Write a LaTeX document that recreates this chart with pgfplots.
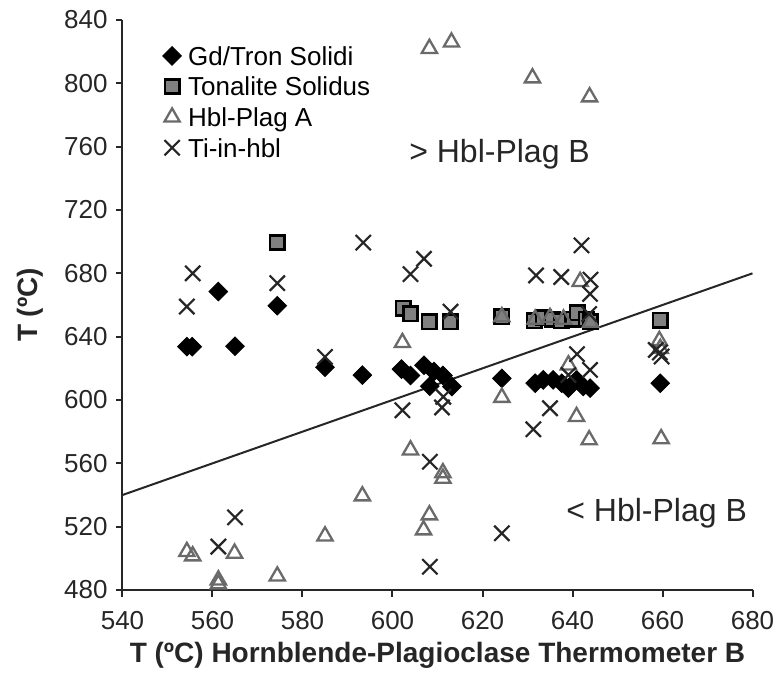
\documentclass[border=0pt]{standalone}
\usepackage{fontspec}
\setmainfont{Liberation Sans}
\usepackage{pgfplots}
\usepackage{pgfplotstable}
\pgfplotsset{compat=1.18}

\definecolor{ink}{HTML}{262626}
\definecolor{boxgray}{HTML}{808080}
\definecolor{trigray}{HTML}{6A6A6A}

% legend image: one mark centred in a fixed 10pt cell
\pgfplotsset{markleg/.style={legend image code/.code={%
  \path[draw=none, fill=none] (-5pt,-5pt) rectangle (5pt,5pt);
  \draw[##1] plot coordinates {(0pt,0pt)};}}}

% Gd/Tron solidi
\pgfplotstableread{
x y
554.3 633.7
555.5 633.7
565.0 634.0
561.3 668.5
574.4 659.5
585.0 620.7
593.3 615.7
602.0 619.5
604.0 615.5
607.0 622.0
608.3 608.7
609.2 618.0
611.2 615.5
613.2 608.5
624.3 613.7
631.7 610.6
633.5 612.7
635.7 612.7
637.6 610.6
639.1 607.5
640.9 612.7
642.4 608.5
643.9 607.5
659.5 610.6
}\gdtron

% Tonalite solidus
\pgfplotstableread{
x y
574.4 699.5
602.4 658.0
604.0 654.5
608.2 649.5
612.8 649.5
624.3 652.5
631.5 650.0
633.5 652.0
635.5 651.0
637.5 650.0
640.0 651.0
641.0 655.0
643.0 651.0
644.0 649.5
659.5 650.5
}\tonalite

% Hbl-Plag thermometer A
\pgfplotstableread{
x y
608.2 822.0
613.1 826.0
631.1 803.4
643.8 791.4
602.2 636.2
604.0 568.4
611.2 554.0
611.2 550.5
593.3 539.4
608.2 527.4
606.9 517.9
585.0 514.1
574.4 488.8
561.3 486.3
561.3 483.8
554.3 504.2
555.6 501.5
564.9 503.2
624.3 601.6
640.9 589.5
643.7 574.8
659.7 575.5
639.1 622.1
659.3 637.5
659.5 632.5
624.3 652.5
631.7 651.0
635.0 652.0
638.0 651.0
644.0 649.0
641.7 674.8
}\hblA

% Ti-in-hornblende
\pgfplotstableread{
x y
555.6 680.0
554.3 659.0
593.5 699.4
574.4 673.8
585.0 627.2
607.0 689.2
604.0 679.5
612.9 655.8
642.0 697.7
631.9 678.7
637.5 677.7
644.0 676.0
643.9 667.0
643.7 654.3
641.0 629.0
643.9 619.0
639.1 615.8
658.5 631.6
659.4 630.0
659.8 627.5
602.2 593.5
611.0 595.3
611.3 602.0
635.0 594.8
631.3 581.5
608.3 561.0
624.3 515.8
608.3 494.7
565.0 525.9
561.3 507.4
}\tihbl

\begin{document}
\begin{tikzpicture}
\begin{axis}[
  at={(0,0)}, anchor=south west,
  scale only axis, width=315pt, height=285pt,
  xmin=540, xmax=680, ymin=480, ymax=840,
  xtick={540,560,...,680}, ytick={480,520,...,840},
  axis x line*=bottom, axis y line*=left,
  xtick pos=left, ytick pos=left,
  tick align=outside, major tick length=3.3pt,
  axis line style={ink, line width=1pt},
  tick style={ink, line width=1pt},
  /pgf/number format/assume math mode=true,
  /pgf/number format/1000 sep={},
  tick label style={font=\fontsize{13}{15}\selectfont, text=ink},
  xticklabel style={anchor=center, inner sep=0pt, yshift=-12pt},
  yticklabel style={anchor=east, inner sep=0pt, xshift=-4pt},
  xlabel={T (ºC) Hornblende-Plagioclase Thermometer B},
  ylabel={T (ºC)},
  label style={font=\bfseries\fontsize{14}{17}\selectfont, text=ink},
  xlabel style={at={(axis description cs:0.5,-0.114)}, anchor=center},
  ylabel style={at={(axis description cs:-0.1468,0.5)}, anchor=center},
  legend cell align=left,
  legend style={at={(axis cs:548.8,823.6)}, anchor=north west,
    draw=none, fill=none, inner sep=0pt, outer sep=0pt,
    row sep=5.3pt, column sep=3pt,
    font=\fontsize{13}{15}\selectfont,
    nodes={inner sep=0pt, text height=9.3pt, text depth=0pt, text=black}},
  clip=false,
]
\addplot[only marks, mark=square*, mark size=3.3pt,
  mark options={rotate=45, draw=none, fill=black}, markleg]
  table[x=x, y=y] {\gdtron};
\addlegendentry{Gd/Tron Solidi}

\addplot[only marks, mark=square*, mark size=3.6pt, line width=1.3pt,
  mark options={draw=black, fill=boxgray, line width=1.3pt}, markleg]
  table[x=x, y=y] {\tonalite};
\addlegendentry{Tonalite Solidus}

\addplot[only marks, mark=triangle, mark size=4.4pt, line width=1.15pt,
  mark options={draw=trigray, line width=1.15pt}, markleg]
  table[x=x, y=y] {\hblA};
\addlegendentry{Hbl-Plag A}

\addplot[only marks, mark=x, mark size=5.4pt, line width=1.1pt,
  mark options={draw=ink, line width=1.1pt}, markleg]
  table[x=x, y=y] {\tihbl};
\addlegendentry{Ti-in-hbl}

% 1:1 line
\addplot[ink, line width=1pt, forget plot] coordinates {(540,540) (680,680)};

\node[font=\fontsize{16}{19}\selectfont, text=ink] at (axis cs:623.8,755) {> Hbl-Plag B};
\node[font=\fontsize{16}{19}\selectfont, text=ink] at (axis cs:658.7,528.6) {< Hbl-Plag B};
\end{axis}
\pgfresetboundingbox
\path (-61.25pt,-43.5pt) rectangle (327.75pt,295pt);
\end{tikzpicture}
\end{document}
